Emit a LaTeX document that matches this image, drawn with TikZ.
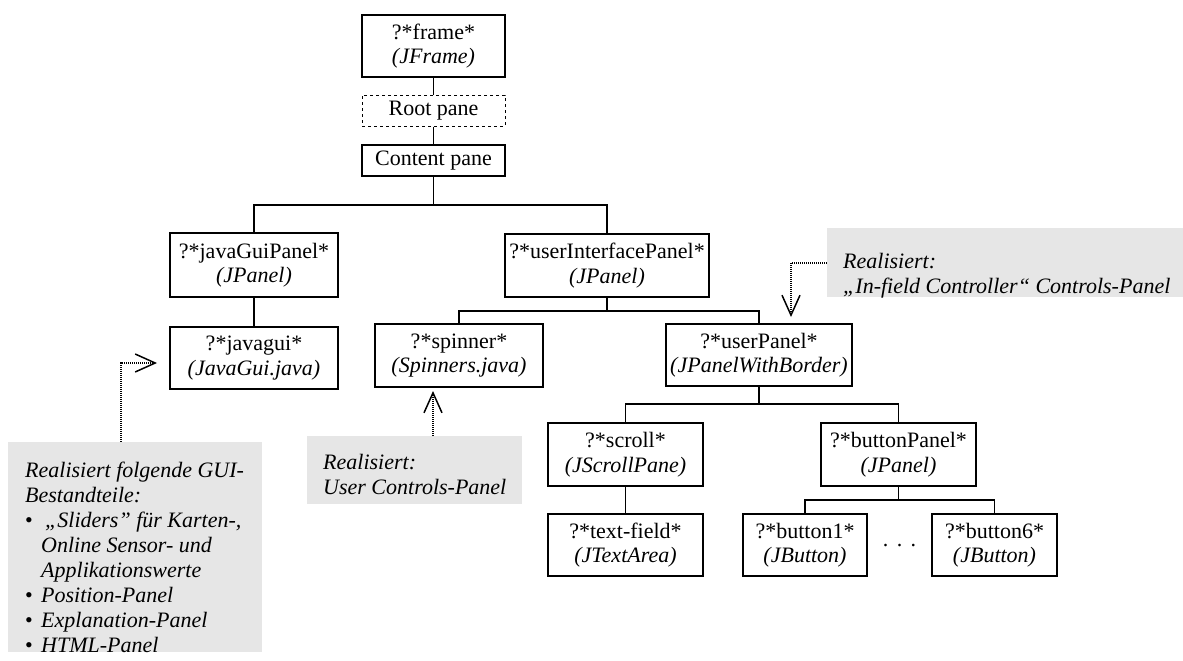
\documentclass[tikz,border=0pt]{standalone}
\usepackage{fontspec}
\setmainfont{Liberation Serif}
\usetikzlibrary{arrows.meta}
\definecolor{notegray}{RGB}{230,230,230}
\tikzset{
  box/.style={draw, line width=1.5pt, inner sep=0pt, align=center, font=\fontsize{22}{24.5}\selectfont},
  wire/.style={line width=1.5pt},
  notebox/.style={fill=notegray, draw=none, inner sep=0pt},
  notetext/.style={inner sep=0pt, align=left, anchor=north west, font=\fontsize{22}{25}\selectfont\itshape},
  refline/.style={line width=1.2pt, dash pattern=on 1pt off 1pt, -{Straight Barb[length=20pt,width=18pt,line width=1.5pt]}},
}
\begin{document}
\begin{tikzpicture}[x=1pt,y=-1pt]
\useasboundingbox (0,0) rectangle (1183,661);

% gray notes
\node[notebox, minimum width=254pt, minimum height=210pt] (g1) at (135,547) {};
\node[notebox, minimum width=215pt, minimum height=68pt] (g2) at (414.5,470) {};
\node[notebox, minimum width=356pt, minimum height=69pt] (g3) at (1005,262.5) {};

\node[notetext] (g1t) at (25,462) {Realisiert folgende GUI-\\Bestandteile:\\\makebox[16pt][l]{\upshape •}\hspace{4pt}„Sliders” für Karten-,\\\hspace{16pt}Online Sensor- und\\\hspace{16pt}Applikationswerte\\\makebox[16pt][l]{\upshape •}Position-Panel\\\makebox[16pt][l]{\upshape •}Explanation-Panel\\\makebox[16pt][l]{\upshape •}HTML-Panel};
\node[notetext] (g2t) at (323,454) {Realisiert:\\User Controls-Panel};
\node[notetext] (g3t) at (843,253) {Realisiert:\\„In-field Controller“ Controls-Panel};

% boxes
\node[box, minimum width=143pt, minimum height=62pt] (frame) at (433.5,46) {?*frame*\\\textit{(JFrame)}};
\node[box, dashed, line width=1pt, minimum width=143pt, minimum height=31pt] (root) at (433.5,110.5) {Root pane};
\node[box, minimum width=143pt, minimum height=31pt] (content) at (433.5,160.5) {Content pane};
\node[box, minimum width=168pt, minimum height=64pt] (jgp) at (254,265) {?*javaGuiPanel*\\\textit{(JPanel)}};
\node[box, minimum width=168pt, minimum height=62pt] (jg) at (254,358) {?*javagui*\\\textit{(JavaGui.java)}};
\node[box, minimum width=204pt, minimum height=63pt] (uip) at (607,265.5) {?*userInterfacePanel*\\\textit{(JPanel)}};
\node[box, minimum width=168pt, minimum height=63pt] (spin) at (459,355.5) {?*spinner*\\\textit{(Spinners.java)}};
\node[box, minimum width=186pt, minimum height=62pt] (up) at (759,355) {?*userPanel*\\\textit{(JPanelWithBorder)}};
\node[box, minimum width=155pt, minimum height=63pt] (scroll) at (625.5,454.5) {?*scroll*\\\textit{(JScrollPane)}};
\node[box, minimum width=155pt, minimum height=62pt] (tf) at (625.5,545) {?*text-field*\\\textit{(JTextArea)}};
\node[box, minimum width=155pt, minimum height=63pt] (bp) at (898.5,454.5) {?*buttonPanel*\\\textit{(JPanel)}};
\node[box, minimum width=124pt, minimum height=62pt] (b1) at (805,545) {?*button1*\\\textit{(JButton)}};
\node[box, minimum width=125pt, minimum height=62pt] (b6) at (994.5,545) {?*button6*\\\textit{(JButton)}};
\node[font=\fontsize{22}{24}\selectfont, anchor=base, inner sep=0pt] (dots) at (899.5,546) {.\hspace{8.5pt}.\hspace{8.5pt}.};

% tree connectors
\coordinate (k1) at (433.5,205);
\coordinate (k2) at (607,311);
\coordinate (k3) at (759,404);
\coordinate (k4) at (898.5,500);
\draw[wire] (frame) -- (root);
\draw[wire] (root) -- (content);
\draw[wire] (content) -- (k1) -| (jgp);
\draw[wire] (k1) -| (uip);
\draw[wire] (jgp) -- (jg);
\draw[wire] (uip) -- (k2) -| (spin);
\draw[wire] (k2) -| (up);
\draw[wire] (up) -- (k3) -| (scroll);
\draw[wire] (k3) -| (bp);
\draw[wire] (scroll) -- (tf);
\draw[wire] (bp) -- (k4) -| (b1);
\draw[wire] (k4) -| (b6);

% note arrows
\coordinate (c1) at (121,363);
\coordinate (t1) at (157,363);
\draw[refline] (g1.north -| c1) |- (t1);
\coordinate (t2) at (433,391);
\draw[refline] (g2.north -| t2) -- (t2);
\coordinate (c3) at (791,263);
\coordinate (t3) at (791,317);
\draw[refline] (g3.west |- c3) -- (c3) -- (t3);
\end{tikzpicture}
\end{document}
